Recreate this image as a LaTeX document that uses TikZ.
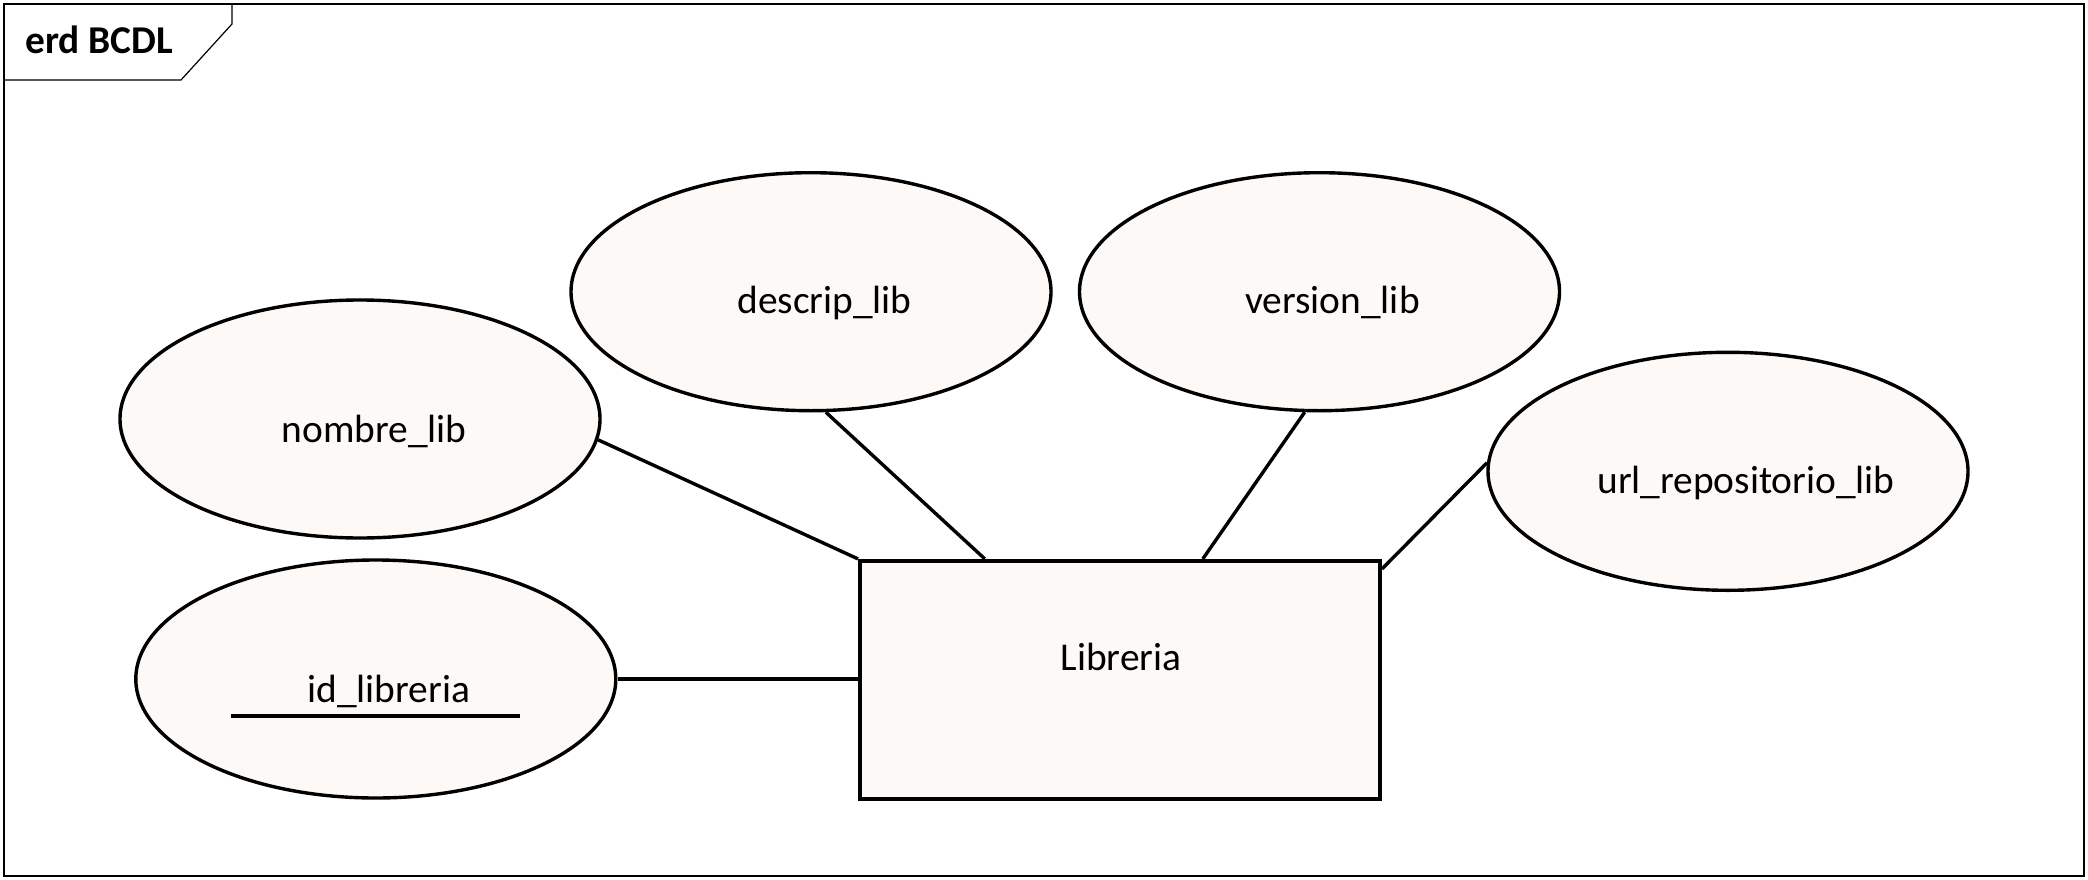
\documentclass[tikz,border=0pt]{standalone}
\usepackage{fontspec}
\setmainfont{Carlito}
\usetikzlibrary{shapes.geometric,calc}
\definecolor{erdfill}{RGB}{252,249,246}
\begin{document}
\begin{tikzpicture}[x=1pt,y=-1pt,
  attr/.style={ellipse, draw, line width=3.4pt, fill=erdfill, minimum width=480pt, minimum height=238pt, inner sep=0pt},
  ent/.style={rectangle, draw, line width=4pt, fill=erdfill, minimum width=520pt, minimum height=238pt, inner sep=0pt},
  lbl/.style={font=\fontsize{39.4pt}{47pt}\selectfont, inner sep=0pt, anchor=base},
  conn/.style={line width=3.4pt},
  thin/.style={line width=1.2pt}]
\useasboundingbox (0,0) rectangle (2088,880);
\fill[white] (0,0) rectangle (2088,880);
% frame
\draw[thin] (4,4) rectangle (2084,876);
\draw[thin] (4,80) -- (181,80) -- (232,24) -- (232,4);
\node[font=\fontsize{39.4pt}{47pt}\selectfont\bfseries, inner sep=0pt, anchor=base west] (title) at (25,54) {erd BCDL};
\node[attr] (nombre) at (360,419) {};
\node[attr] (id) at (375.8,679) {};
\node[attr] (descrip) at (811,291.7) {};
\node[attr] (version) at (1319.5,291.7) {};
\node[attr] (url) at (1728,471.3) {};
\node[ent] (lib) at (1120,679.9) {};
\draw[conn] (nombre.-5) -- (lib.north west);
\draw[conn] (descrip.-83.4) -- ($(lib.north west)!0.242!(lib.north east)$);
\draw[conn] (version.-97.5) -- ($(lib.north west)!0.658!(lib.north east)$);
\draw[conn] (url.178.1) -- ($(lib.north east)+(0,10)$);
\draw[conn] (id.east) -- (id.east -| lib.west);
% labels
\node[lbl] (tnombre) at ($(nombre.center)+(14,23)$) {nombre\_lib};
\node[lbl] (tid) at ($(id.center)+(13,23)$) {id\_libreria};
\node[lbl] (tdescrip) at ($(descrip.center)+(13.6,22)$) {descrip\_lib};
\node[lbl] (tversion) at ($(version.center)+(13,22)$) {version\_lib};
\node[lbl] (turl) at ($(url.center)+(18,22)$) {url\_repositorio\_lib};
\node[lbl] (tlib) at ($(lib.center)+(1,-9)$) {Libreria};
\draw[conn] ($(id.center)+(-145,37)$) -- ($(id.center)+(144,37)$);
\end{tikzpicture}
\end{document}
